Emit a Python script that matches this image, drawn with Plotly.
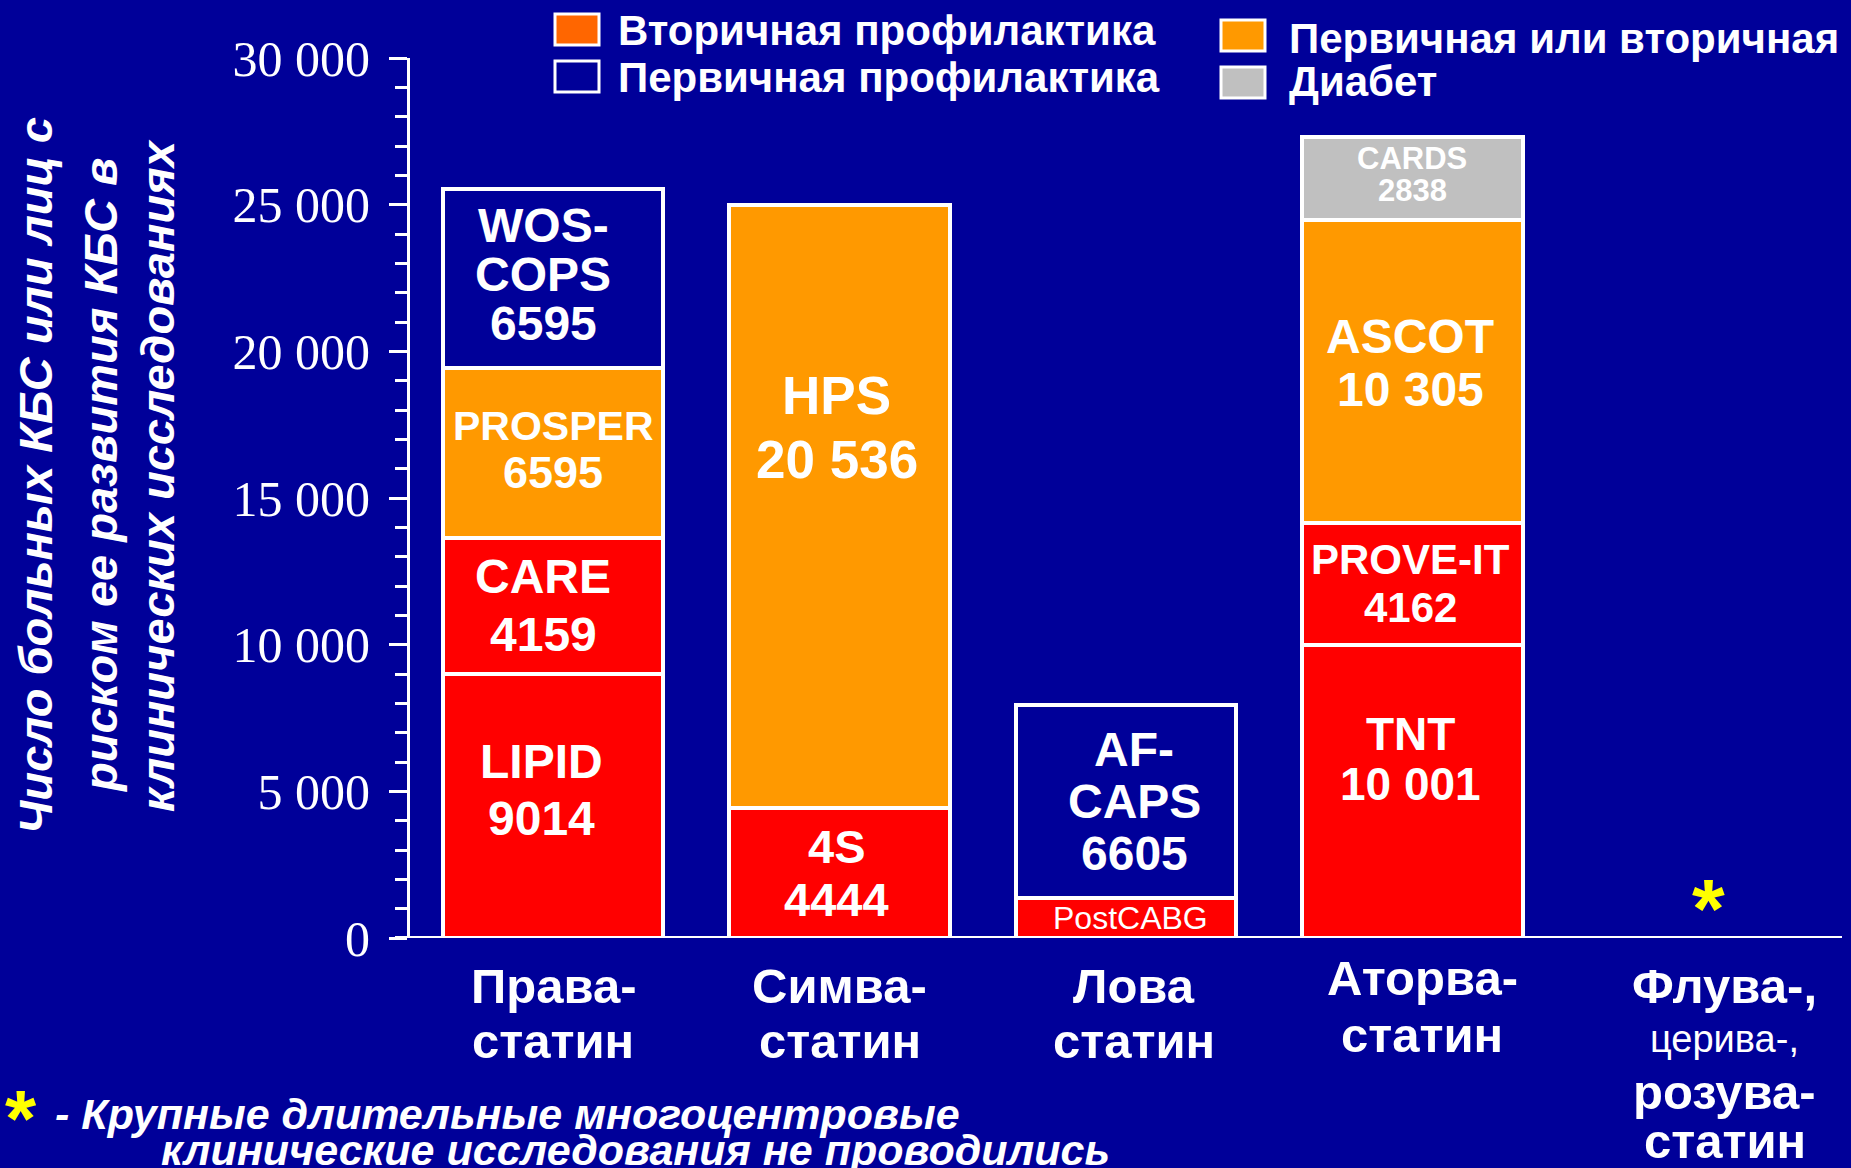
import plotly.graph_objects as go

# ---------------- data ----------------
categories = ["Права-статин", "Симва-статин", "Лова статин", "Аторва-статин", "Флува-церива-розува-статин"]

seg_category = ["Права-статин", "Права-статин", "Права-статин", "Права-статин",
                "Симва-статин", "Симва-статин",
                "Лова статин", "Лова статин",
                "Аторва-статин", "Аторва-статин", "Аторва-статин", "Аторва-статин"]
seg_study = ["LIPID", "CARE", "PROSPER", "WOSCOPS",
             "4S", "HPS",
             "PostCABG", "AFCAPS",
             "TNT", "PROVE-IT", "ASCOT", "CARDS"]
seg_value = [9014, 4620, 5800, 6110,
             4444, 20536,
             1351, 6605,
             10001, 4162, 10305, 2838]
seg_type = ["secondary", "secondary", "either", "primary",
            "secondary", "either",
            "secondary", "primary",
            "secondary", "secondary", "either", "diabetes"]
seg_label = [["LIPID", "9014"], ["CARE", "4159"], ["PROSPER", "6595"], ["WOS-", "COPS", "6595"],
             ["4S", "4444"], ["HPS", "20 536"],
             ["PostCABG"], ["AF-", "CAPS", "6605"],
             ["TNT", "10 001"], ["PROVE-IT", "4162"], ["ASCOT", "10 305"], ["CARDS", "2838"]]

legend_labels = ["Вторичная профилактика", "Первичная профилактика", "Первичная или вторичная", "Диабет"]
legend_types = ["secondary_legend", "primary", "either", "diabetes"]

x_label_lines = [["Права-", "статин"], ["Симва-", "статин"], ["Лова", "статин"],
                 ["Аторва-", "статин"], ["Флува-,", "церива-,", "розува-", "статин"]]

y_title_lines = ["Число больных КБС или лиц с", "риском ее развития КБС в", "клинических исследованиях"]
footnote_lines = ["- Крупные длительные многоцентровые", "клинические исследования не проводились"]
no_trials_category = "Флува-церива-розува-статин"
no_trials_marker_value = 1250

y_ticks = [0, 5000, 10000, 15000, 20000, 25000, 30000]

# ---------------- styles ----------------
BG = "#000099"
COLORS = {"secondary": "#FF0000", "either": "#FF9900", "primary": BG,
          "diabetes": "#C0C0C0", "secondary_legend": "#FF6600"}
SANS = "Liberation Sans, Arial, sans-serif"
SERIF = "Liberation Serif, Times New Roman, serif"

# label style: (font size, line gap px, extra yshift px, xshift px, bold)
LABEL_STYLE = {
    "LIPID": (48, 57, 16, -12, True),
    "CARE": (48, 58, 0, -10, True),
    "PROSPER": (41, 46, 4, 0, True),
    "WOSCOPS": (48, 49, 4, -10, True),
    "4S": (47, 53, 0, -3, True),
    "HPS": (53, 64, 79, -3, True),
    "PostCABG": (32, 32, 0, 4, False),
    "AFCAPS": (48, 52, 0, 8, True),
    "TNT": (46, 50, 32, -2, True),
    "PROVE-IT": (42, 48, 0, -2, True),
    "ASCOT": (48, 53, 8, -2, True),
    "CARDS": (31, 32, 4, 0, True),
}
LINE_SIZE_OVERRIDE = {("PROSPER", 1): 45}

W, H = 1851, 1168
L, R, T, B = 410, 9, 58, 230
PW, PH = W - L - R, H - T - B


def px_x(px):
    return (px - L) / PW


def px_y(py):
    return (H - B - py) / PH


fig = go.Figure()

for cat, study, val, typ in zip(seg_category, seg_study, seg_value, seg_type):
    fig.add_trace(go.Bar(
        x=[cat], y=[val], name=study,
        marker=dict(color=COLORS[typ], line=dict(color="white", width=4)),
        width=0.77, showlegend=False, hoverinfo="skip",
    ))

annotations = []

# segment labels
base = {}
for cat, study, val, lines in zip(seg_category, seg_study, seg_value, seg_label):
    b = base.get(cat, 0)
    mid = b + val / 2
    base[cat] = b + val
    size, gap, extra, xs, bold = LABEL_STYLE[study]
    n = len(lines)
    for i, line in enumerate(lines):
        s = LINE_SIZE_OVERRIDE.get((study, i), size)
        txt = f"<b>{line}</b>" if bold else line
        annotations.append(dict(
            x=cat, y=mid, xref="x", yref="y", text=txt, showarrow=False,
            yshift=((n - 1) / 2 - i) * gap + extra, xshift=xs,
            font=dict(family=SANS, size=s, color="white"),
            xanchor="center", yanchor="middle",
        ))

# yellow asterisk for category without trials
annotations.append(dict(
    x=no_trials_category, y=no_trials_marker_value, xref="x", yref="y",
    text="<b>*</b>", showarrow=False, xshift=10, yshift=-8,
    font=dict(family=SANS, size=84, color="#FFFF00"), yanchor="middle",
))

# x category labels
x_rows = {0: [986, 1041], 1: [986, 1041], 2: [986, 1041], 3: [978, 1035], 4: [986, 1039, 1092, 1141]}
x_shift = {0: 0, 1: 0, 2: 8, 3: 10, 4: 26}
for ci, (cat, lines) in enumerate(zip(categories, x_label_lines)):
    for li, line in enumerate(lines):
        thin = (ci == 4 and li == 1)
        annotations.append(dict(
            x=cat, y=px_y(x_rows[ci][li]), xref="x", yref="paper",
            text=line if thin else f"<b>{line}</b>", showarrow=False,
            xshift=x_shift[ci],
            font=dict(family=SANS, size=38 if thin else 49, color="white"),
            xanchor="center", yanchor="middle",
        ))

# y-axis title (rotated lines)
for px, line in zip([35, 100, 157], y_title_lines):
    annotations.append(dict(
        x=px_x(px), y=px_y(476), xref="paper", yref="paper",
        text=f"<b><i>{line}</i></b>", showarrow=False, textangle=-90,
        font=dict(family=SANS, size=47, color="white"),
        xanchor="center", yanchor="middle",
    ))

# legend (manual, two columns)
legend_sw = [(555, 14), (555, 61), (1221, 20), (1221, 67)]
legend_txt = [(616, 30), (616, 77), (1287, 38), (1287, 82)]
shapes = []
for (sx, sy), (tx, ty), lab, typ in zip(legend_sw, legend_txt, legend_labels, legend_types):
    shapes.append(dict(
        type="rect", xref="paper", yref="paper",
        x0=px_x(sx), x1=px_x(sx + 44), y0=px_y(sy), y1=px_y(sy + 31),
        fillcolor=COLORS[typ], line=dict(color="white", width=3),
    ))
    annotations.append(dict(
        x=px_x(tx), y=px_y(ty), xref="paper", yref="paper",
        text=f"<b>{lab}</b>", showarrow=False,
        font=dict(family=SANS, size=42, color="white"),
        xanchor="left", yanchor="middle",
    ))

# x-axis baseline extending slightly left of the y axis
shapes.append(dict(type="line", xref="paper", yref="y", x0=px_x(395), x1=1, y0=0, y1=0,
                   line=dict(color="white", width=4), layer="below"))

# footnote
annotations.append(dict(
    x=px_x(21), y=px_y(1118), xref="paper", yref="paper", text="<b>*</b>",
    showarrow=False, font=dict(family=SANS, size=80, color="#FFFF00"),
    xanchor="center", yanchor="middle",
))
for (fx, fy), line in zip([(53, 1114), (159, 1150)], footnote_lines):
    annotations.append(dict(
        x=px_x(fx), y=px_y(fy), xref="paper", yref="paper",
        text=f"<b><i>{line}</i></b>", showarrow=False,
        font=dict(family=SANS, size=43, color="white"),
        xanchor="left", yanchor="middle",
    ))

fig.update_layout(
    width=W, height=H,
    margin=dict(l=L, r=R, t=T, b=B, pad=0),
    paper_bgcolor=BG, plot_bgcolor=BG,
    barmode="stack", bargap=0.23,
    separators=". ",
    showlegend=False,
    annotations=annotations, shapes=shapes,
    xaxis=dict(
        type="category", categoryorder="array", categoryarray=categories,
        range=[-0.5, 4.5], showticklabels=False, showgrid=False, zeroline=False,
        showline=False, ticks="",
    ),
    yaxis=dict(
        range=[0, 30000], tickvals=y_ticks, tickformat=",d",
        showgrid=False, zeroline=False,
        showline=True, linecolor="white", linewidth=3,
        ticks="outside", ticklen=18, tickwidth=3, tickcolor="white",
        minor=dict(dtick=1000, ticks="outside", ticklen=12, tickwidth=3, tickcolor="white"),
        tickfont=dict(family=SERIF, size=50, color="white"),
        ticklabelstandoff=9,
    ),
)

fig.write_html(
    "out.html",
    config={"displayModeBar": False},
    post_script="document.body.style.margin='0';document.body.style.overflow='hidden';"
                "document.body.style.background='" + BG + "';",
)
